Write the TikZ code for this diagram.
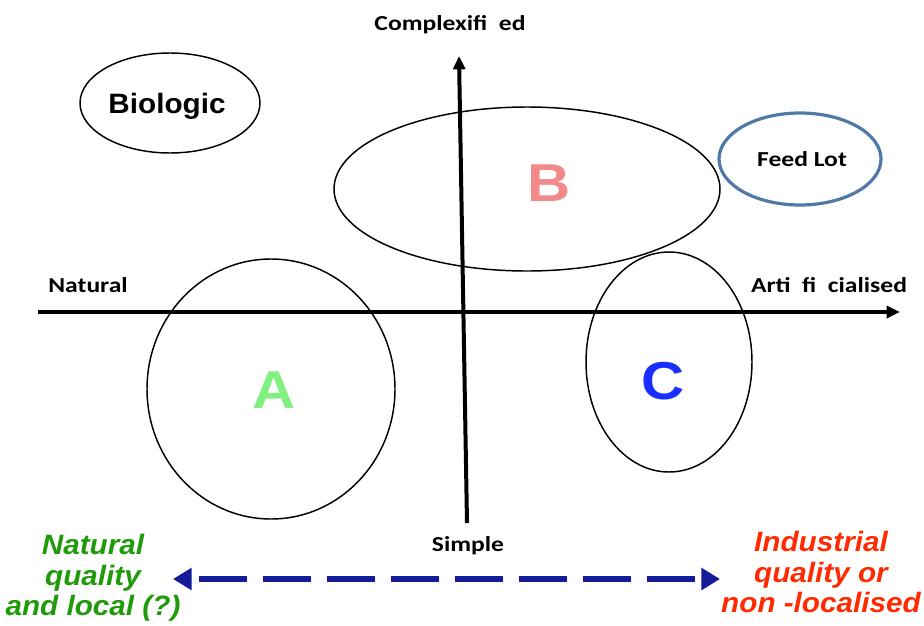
\documentclass[tikz,border=0pt]{standalone}
\usepackage{fontspec}
\setmainfont{Liberation Sans}
\newfontfamily\lblfont[FakeStretch=1.2]{Carlito}
\newfontfamily\bigfont[FakeStretch=1.12]{Liberation Sans}
\newfontfamily\txtfont[FakeStretch=1.06]{Liberation Sans}
\usetikzlibrary{arrows.meta}
\definecolor{pinkB}{HTML}{F4898B}
\definecolor{greenA}{HTML}{80F080}
\definecolor{blueC}{HTML}{1A2EFF}
\definecolor{feedblue}{HTML}{4F79A6}
\definecolor{navy}{HTML}{141C9A}
\definecolor{darkgreen}{HTML}{1F9A0A}
\definecolor{redtxt}{HTML}{FF2A00}
\tikzset{
  axislbl/.style={font=\lblfont\bfseries\fontsize{16}{18}\selectfont},
  bigletter/.style={font=\bigfont\bfseries\fontsize{40}{44}\selectfont},
  axisline/.style={line width=3pt, -{Triangle[length=10pt,width=9pt]}},
  bottomtxt/.style={font=\txtfont\bfseries\itshape\fontsize{21}{23}\selectfont, align=center},
}
\begin{document}
\begin{tikzpicture}[x=0.75pt,y=-0.75pt]
\useasboundingbox (0,0) rectangle (924,625);
% ellipses
\draw[line width=1.1pt] (170,103) ellipse [x radius=90, y radius=50];
\draw[line width=1.1pt] (527,189) ellipse [x radius=193, y radius=82];
\draw[draw=feedblue, line width=2.4pt] (800,159) ellipse [x radius=81, y radius=46];
\draw[line width=1.1pt] (271,389) ellipse [x radius=124, y radius=130];
\draw[line width=1.1pt] (669,362) ellipse [x radius=83, y radius=110];
% axes
\coordinate (hx0) at (38,312);
\coordinate (hx1) at (900,312);
\coordinate (vy0) at (467,523);
\coordinate (vy1) at (459,56);
\draw[axisline] (hx0) -- (hx1);
\draw[axisline] (vy0) -- (vy1);
% labels
\node[bigletter, text=pinkB] (B) at (549,183) {B};
\node[bigletter, text=greenA] (A) at (274,390) {A};
\node[bigletter, text=blueC] (C) at (663,381) {C};
\node[font=\txtfont\bfseries\fontsize{21}{23}\selectfont, anchor=base] (bio) at (167,113) {Biologic};
\node[axislbl] (feed) at (802,159) {Feed Lot};
\node[axislbl] (cx) at (450,25) {Complexifi\ \ ed};
\node[axislbl] (nat) at (88,285) {Natural};
\node[axislbl] (art) at (829,285) {Arti\ \ fi\ \ cialised};
\node[axislbl] (simp) at (468,546) {Simple};
% bottom texts
\node[bottomtxt, text=darkgreen] (nq) at (93,578) {Natural\\quality\\and local (?)};
\node[bottomtxt, text=redtxt] (iq) at (821,572) {Industrial\\quality or\\non -localised};
% dashed arrow
\coordinate (d0) at (173,579);
\coordinate (d1) at (720,579);
\draw[draw=navy, line width=5pt, dash pattern=on 36pt off 12pt, dash phase=-6pt,
  {Triangle[length=14pt,width=16pt,fill=navy]}-{Triangle[length=14pt,width=16pt,fill=navy]}] (d0) -- (d1);
\end{tikzpicture}
\end{document}
